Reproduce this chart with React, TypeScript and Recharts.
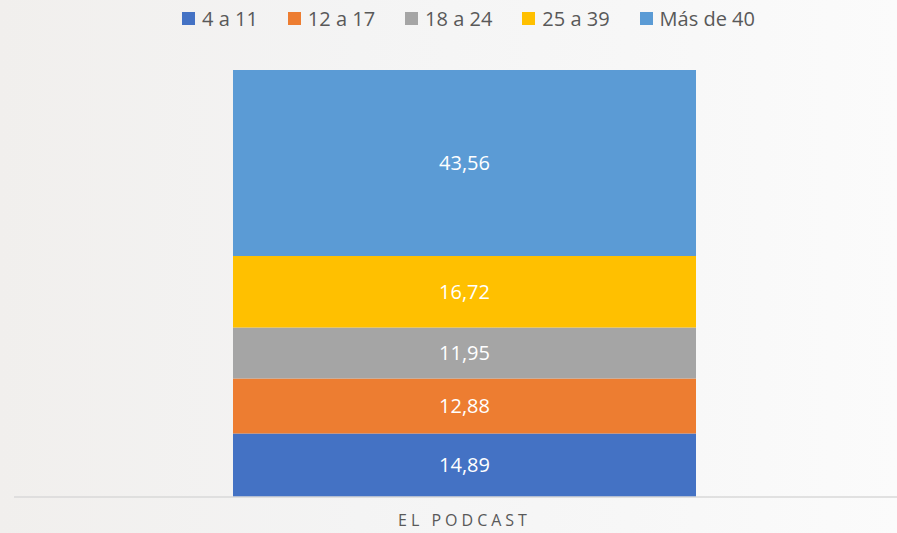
import { Bar, BarChart, LabelList, Legend, XAxis, YAxis } from "recharts";

const categories = ["EL PODCAST"];
const seriesNames = ["4 a 11", "12 a 17", "18 a 24", "25 a 39", "Más de 40"];
const seriesKeys = ["g1", "g2", "g3", "g4", "g5"];
const colors = ["#4472C4", "#ED7D31", "#A5A5A5", "#FFC000", "#5B9BD5"];

const edad4a11 = [14.89];
const edad12a17 = [12.88];
const edad18a24 = [11.95];
const edad25a39 = [16.72];
const masDe40 = [43.56];

const data = categories.map((name, i) => ({
  name,
  g1: edad4a11[i],
  g2: edad12a17[i],
  g3: edad18a24[i],
  g4: edad25a39[i],
  g5: masDe40[i],
}));

const font = "'Open Sans', 'Liberation Sans', sans-serif";
const fmt = (v: any) => Number(v).toFixed(2).replace(".", ",");

function LegendBox() {
  return (
    <div
      style={{
        display: "flex",
        justifyContent: "center",
        alignItems: "center",
        height: 36,
        fontSize: 20,
        color: "#595959",
        fontFamily: font,
        paddingLeft: 40,
      }}
    >
      {seriesNames.map((n, i) => (
        <div key={n} style={{ display: "flex", alignItems: "center", marginRight: i < 4 ? 30 : 0 }}>
          <span style={{ width: 13, height: 13, background: colors[i], marginRight: 7, display: "inline-block" }} />
          <span>{n}</span>
        </div>
      ))}
    </div>
  );
}

export default function App() {
  return (
    <div
      style={{
        position: "absolute",
        left: 0,
        top: 0,
        width: 897,
        height: 533,
        fontFamily: font,
        background: "linear-gradient(90deg, #f1efed 0%, #f4f4f4 40%, #f7f7f7 70%, #fbfbfb 100%)",
      }}
    >
      <BarChart
        width={897}
        height={533}
        data={data}
        margin={{ top: 34, right: 0, left: 14, bottom: 0 }}
        barSize={463}
      >
        <XAxis
          dataKey="name"
          height={36}
          padding={{ left: 18, right: 0 }}
          axisLine={{ stroke: "#d9d9d9", strokeWidth: 1.5 }}
          tickLine={false}
          tick={{ fill: "#595959", fontSize: 16, letterSpacing: 4, fontFamily: font }}
          tickMargin={12}
        />
        <YAxis hide domain={[0, 100]} />
        <Legend verticalAlign="top" wrapperStyle={{ top: 0, left: 0, width: 897 }} content={() => <LegendBox />} />
        {seriesKeys.map((k, i) => (
          <Bar
            key={k}
            dataKey={k}
            name={seriesNames[i]}
            stackId="a"
            fill={colors[i]}
            isAnimationActive={false}
          >
            <LabelList
              dataKey={k}
              position="center"
              formatter={fmt}
              fill="#ffffff"
              fontSize={20}
              fontFamily={font}
            />
          </Bar>
        ))}
      </BarChart>
    </div>
  );
}
